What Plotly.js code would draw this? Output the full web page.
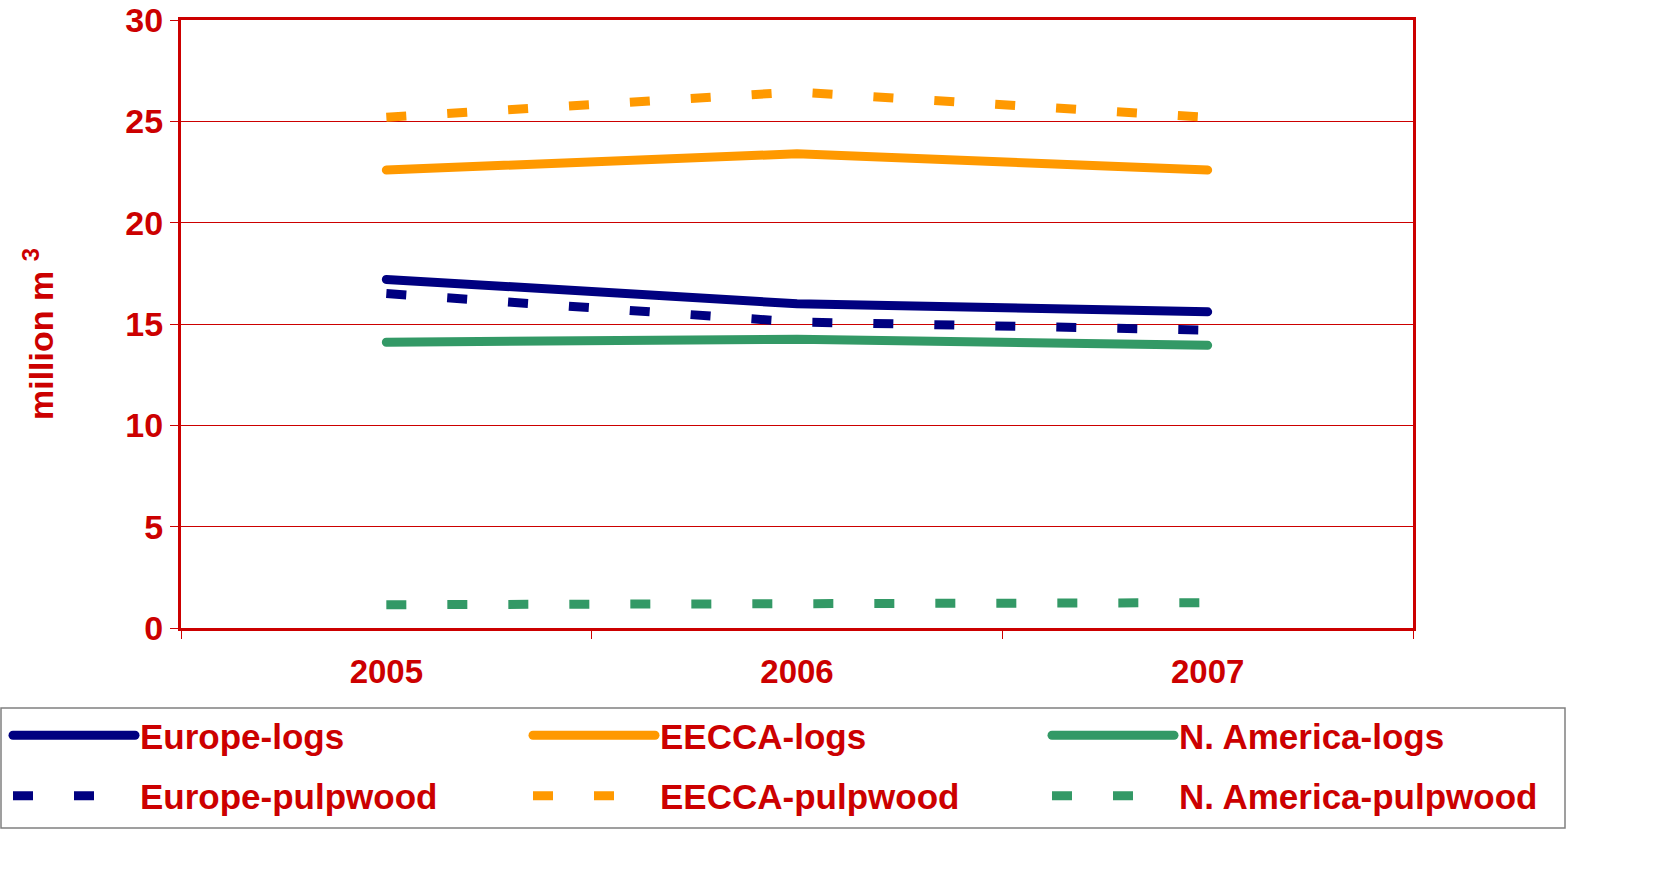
<!DOCTYPE html>
<html>
<head>
<meta charset="utf-8">
<script src="https://cdn.plot.ly/plotly-3.0.1.min.js"></script>
<style>
  html, body { margin: 0; padding: 0; background: #ffffff; }
  #chart { width: 1667px; height: 881px; }
</style>
</head>
<body>
<div id="chart"></div>
<script>
const years = ["2005", "2006", "2007"];
const europeLogs = [17.2, 16.0, 15.6];
const eeccaLogs = [22.6, 23.4, 22.6];
const naLogs = [14.1, 14.25, 13.95];
const europePulp = [16.5, 15.1, 14.7];
const eeccaPulp = [25.2, 26.45, 25.2];
const naPulp = [1.15, 1.2, 1.25];
const seriesNames = ["Europe-logs", "EECCA-logs", "N. America-logs",
                     "Europe-pulpwood", "EECCA-pulpwood", "N. America-pulpwood"];
const yTicks = [0, 5, 10, 15, 20, 25, 30];
const yTitle = "million m <sup>3</sup>";

const RED = "#CC0000";
const NAVY = "#000080";
const ORANGE = "#FF9900";
const GREEN = "#339966";
const FONT = "Liberation Sans, Arial, sans-serif";
const DASH = "20px,41px";

function tr(name, y, color, dash, leg) {
  return {
    type: "scatter", mode: "lines", name: name, x: years, y: y,
    legend: leg, legendgroup: name,
    line: { color: color, width: 9, dash: dash }
  };
}

const data = [
  tr(seriesNames[0], europeLogs, NAVY, "solid", "legend"),
  tr(seriesNames[1], eeccaLogs, ORANGE, "solid", "legend2"),
  tr(seriesNames[2], naLogs, GREEN, "solid", "legend3"),
  tr(seriesNames[3], europePulp, NAVY, DASH, "legend"),
  tr(seriesNames[4], eeccaPulp, ORANGE, DASH, "legend2"),
  tr(seriesNames[5], naPulp, GREEN, DASH, "legend3")
];

function leg(xpx) {
  return {
    orientation: "v", xref: "container", yref: "container",
    x: xpx / 1667, y: 1 - 706 / 881, xanchor: "left", yanchor: "top",
    itemwidth: 122, tracegroupgap: 12,
    bgcolor: "rgba(0,0,0,0)", borderwidth: 0,
    font: { family: FONT, size: 35, color: RED, weight: "bold" },
    traceorder: "grouped"
  };
}

const layout = {
  width: 1667, height: 881,
  margin: { l: 181, r: 254, t: 20, b: 253, pad: 0, autoexpand: false },
  paper_bgcolor: "#ffffff", plot_bgcolor: "#ffffff",
  font: { family: FONT, color: RED },
  showlegend: true,
  xaxis: {
    type: "category", range: [-0.5, 2.5],
    tickson: "boundaries", ticks: "outside", ticklen: 8, tickwidth: 1, tickcolor: RED,
    showline: true, linecolor: RED, linewidth: 3, mirror: true,
    showgrid: false, zeroline: false, tickangle: 0,
    ticklabelstandoff: 12,
    tickfont: { family: FONT, size: 33, color: RED, weight: "bold" }
  },
  yaxis: {
    range: [0, 30], tickvals: yTicks, ticktext: yTicks.map(String),
    ticks: "outside", ticklen: 8, tickwidth: 1, tickcolor: RED,
    showline: true, linecolor: RED, linewidth: 3, mirror: true,
    showgrid: true, gridcolor: RED, gridwidth: 1, zeroline: false,
    tickfont: { family: FONT, size: 34, color: RED, weight: "bold" }
  },
  annotations: [{
    text: yTitle, textangle: -90, showarrow: false,
    xref: "paper", yref: "paper",
    x: (38 - 181) / 1232, y: (628 - 334) / 608, xanchor: "center", yanchor: "middle",
    font: { family: FONT, size: 34, color: RED, weight: "bold" }
  }],
  legend: leg(8),
  legend2: leg(528),
  legend3: leg(1047),
  shapes: [{
    type: "rect", xref: "paper", yref: "paper",
    x0: (1 - 181) / 1232, x1: (1565 - 181) / 1232,
    y0: (628 - 708) / 608, y1: (628 - 828) / 608,
    line: { color: "#808080", width: 1.5 }, fillcolor: "rgba(0,0,0,0)", layer: "below"
  }]
};

Plotly.newPlot("chart", data, layout, { displayModeBar: false, staticPlot: true }).then(function () {
  document.querySelectorAll(".scatterlayer .js-line, .legendlines path").forEach(function (p) {
    const da = p.style.strokeDasharray || p.getAttribute("stroke-dasharray");
    if (!da || da === "none") p.style.strokeLinecap = "round";
  });
});
</script>
</body>
</html>
